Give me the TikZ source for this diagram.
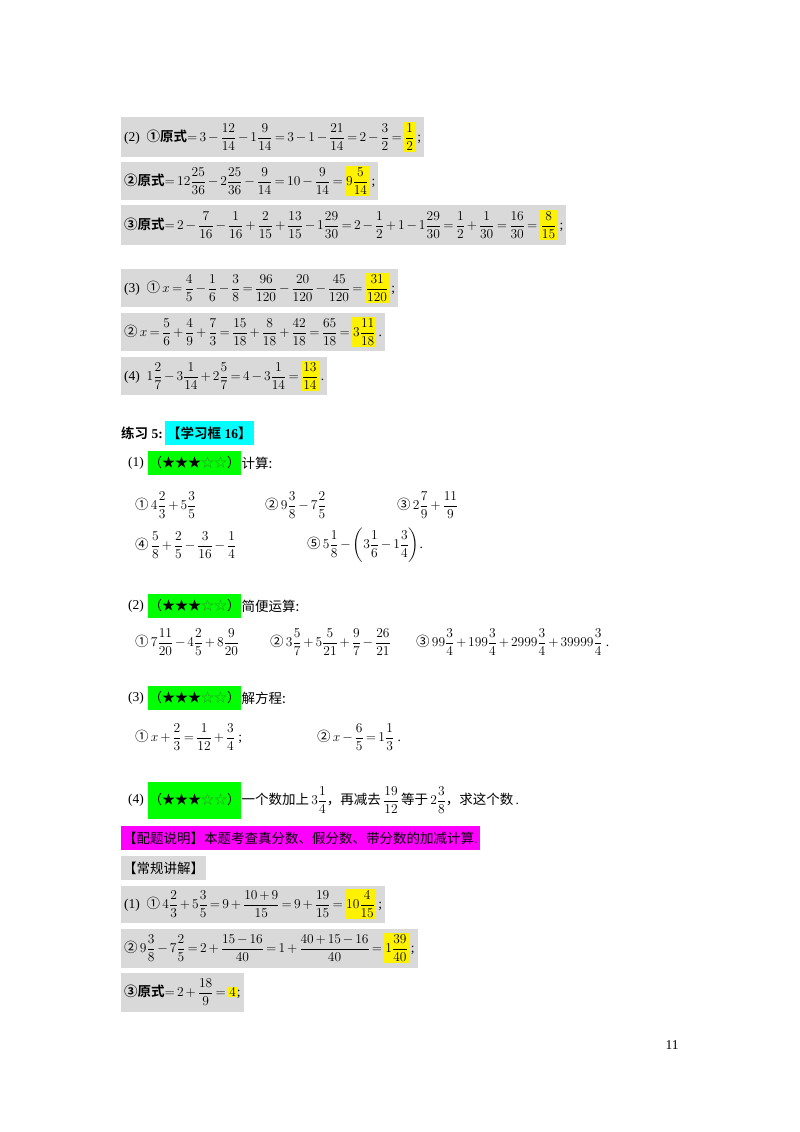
\RequirePackage{fix-cm}
\documentclass[tikz,border=0pt]{standalone}
\usepackage{amsmath}
\usepackage{fontspec}
\setmainfont{Liberation Serif}
\newfontfamily\cjk{Noto Sans CJK SC}
\newfontfamily\cjkb{Noto Sans CJK SC Bold}
\definecolor{gbox}{HTML}{D9D9D9}
\definecolor{hstar}{HTML}{2E8B2E}
\definecolor{cyanx}{HTML}{00FFFF}
\definecolor{magx}{HTML}{FF00FF}
\definecolor{greenx}{HTML}{00FF00}
\thickmuskip=3mu plus 2mu
\medmuskip=2.5mu plus 1mu
\newcommand{\hl}[1]{{\setlength{\fboxsep}{1pt}\colorbox{yellow}{$\displaystyle #1$}}}
\newcommand{\cn}[1]{{\cjk #1}\,}
\newcommand{\cb}[1]{{\cjkb #1}}
\newcommand{\stars}{（★★★{\color{hstar}☆☆}）}
\begin{document}
\begin{tikzpicture}[x=1pt,y=-1pt,
  every node/.style={font=\fontsize{13.5}{15}\selectfont, inner sep=0pt},
  gb/.style={fill=gbox, anchor=west, inner xsep=3pt, minimum height=38pt},
  gr/.style={fill=greenx, anchor=west, inner xsep=1pt, minimum height=24pt, font=\cjk\fontsize{13}{15}\selectfont},
  tx/.style={anchor=west}]
\useasboundingbox (0,0) rectangle (800,1132);
\fill[white] (0,0) rectangle (800,1132);
% part 2
\node[gb,minimum height=40pt] (r1) at (121,137) {(2)\ \ \cb{①原式}$=3-\dfrac{12}{14}-1\dfrac{9}{14}=3-1-\dfrac{21}{14}=2-\dfrac{3}{2}=\hl{\dfrac{1}{2}}$\,;};
\node[gb] (r2) at (121,181) {\cb{②原式}$=12\dfrac{25}{36}-2\dfrac{25}{36}-\dfrac{9}{14}=10-\dfrac{9}{14}=\hl{9\dfrac{5}{14}}$\,;};
\node[gb,minimum height=40pt] (r3) at (121,225) {\cb{③原式}$=2-\dfrac{7}{16}-\dfrac{1}{16}+\dfrac{2}{15}+\dfrac{13}{15}-1\dfrac{29}{30}=2-\dfrac{1}{2}+1-1\dfrac{29}{30}=\dfrac{1}{2}+\dfrac{1}{30}=\dfrac{16}{30}=\hl{\dfrac{8}{15}}$\,;};
% part 3
\node[gb] (r4) at (121,288) {(3)\ \ \cn{①}$x=\dfrac{4}{5}-\dfrac{1}{6}-\dfrac{3}{8}=\dfrac{96}{120}-\dfrac{20}{120}-\dfrac{45}{120}=\hl{\dfrac{31}{120}}$\,;};
\node[gb] (r5) at (121,332) {\cn{②}$x=\dfrac{5}{6}+\dfrac{4}{9}+\dfrac{7}{3}=\dfrac{15}{18}+\dfrac{8}{18}+\dfrac{42}{18}=\dfrac{65}{18}=\hl{3\dfrac{11}{18}}$\,.};
\node[gb] (r6) at (121,376) {(4)\ \ $1\dfrac{2}{7}-3\dfrac{1}{14}+2\dfrac{5}{7}=4-3\dfrac{1}{14}=\hl{\dfrac{13}{14}}$\,.};
% exercise 5
\node[tx] (ex) at (121,433) {\cb{练习} \textbf{5:}};
\node[fill=cyanx, anchor=west, minimum height=24pt, inner xsep=2pt] (cy) at (165,433) {\cb{【学习框} \textbf{16}\cb{】}};
\node[tx] (p1) at (128,463) {(1)};
\node[gr] (g1) at (148,463) {\stars};
\node[tx] (t1) at (g1.east) {\cn{计算:}};
\node[tx] (a1) at (135,505) {\cn{①}$4\dfrac{2}{3}+5\dfrac{3}{5}$};
\node[tx] (a2) at (265,505) {\cn{②}$9\dfrac{3}{8}-7\dfrac{2}{5}$};
\node[tx] (a3) at (397,505) {\cn{③}$2\dfrac{7}{9}+\dfrac{11}{9}$};
\node[tx] (a4) at (135,545) {\cn{④}$\dfrac{5}{8}+\dfrac{2}{5}-\dfrac{3}{16}-\dfrac{1}{4}$};
\node[tx] (a5) at (307,545) {\cn{⑤}$5\dfrac{1}{8}-\left(3\dfrac{1}{6}-1\dfrac{3}{4}\right)$.};
\node[tx] (p2) at (128,606) {(2)};
\node[gr] (g2) at (148,606) {\stars};
\node[tx] (t2) at (g2.east) {\cn{简便运算:}};
\node[tx] (b1) at (135,642) {\cn{①}$7\dfrac{11}{20}-4\dfrac{2}{5}+8\dfrac{9}{20}$};
\node[tx] (b2) at (270,642) {\cn{②}$3\dfrac{5}{7}+5\dfrac{5}{21}+\dfrac{9}{7}-\dfrac{26}{21}$};
\node[tx] (b3) at (416,642) {\cn{③}$99\dfrac{3}{4}+199\dfrac{3}{4}+2999\dfrac{3}{4}+39999\dfrac{3}{4}$\ .};
\node[tx] (p3) at (128,698) {(3)};
\node[gr] (g3) at (148,698) {\stars};
\node[tx] (t3) at (g3.east) {\cn{解方程:}};
\node[tx] (c1) at (135,737) {\cn{①}$x+\dfrac{2}{3}=\dfrac{1}{12}+\dfrac{3}{4}$\ ;};
\node[tx] (c2) at (317,737) {\cn{②}$x-\dfrac{6}{5}=1\dfrac{1}{3}$\ .};
\node[tx] (p4) at (128,800) {(4)};
\node[gr,minimum height=37pt] (g4) at (148,800) {\stars};
\node[tx] (t4) at (g4.east) {{\cjk 一个数加上}\,$3\dfrac{1}{4}$\cn{，再减去}$\dfrac{19}{12}$\,\cn{等于}$2\dfrac{3}{8}$\cn{，求这个数}.};
\node[fill=magx, anchor=west, minimum height=24pt, inner xsep=2pt] (mg) at (121,838) {{\cjk 【配题说明】本题考查真分数、假分数、带分数的加减计算}.};
\node[fill=gbox, anchor=west, minimum height=24pt, inner xsep=2pt] (cg) at (121,868) {{\cjk 【常规讲解】}};
\node[gb,minimum height=37pt] (s1) at (121,904) {(1)\ \ \cn{①}$4\dfrac{2}{3}+5\dfrac{3}{5}=9+\dfrac{10+9}{15}=9+\dfrac{19}{15}=\hl{10\dfrac{4}{15}}$\,;};
\node[gb,minimum height=39pt] (s2) at (121,948) {\cn{②}$9\dfrac{3}{8}-7\dfrac{2}{5}=2+\dfrac{15-16}{40}=1+\dfrac{40+15-16}{40}=\hl{1\dfrac{39}{40}}$\,;};
\node[gb,minimum height=39pt] (s3) at (121,992) {\cb{③原式}$=2+\dfrac{18}{9}=\hl{4}$;};
\node (pg) at (672,1045) {11};
\end{tikzpicture}
\end{document}
